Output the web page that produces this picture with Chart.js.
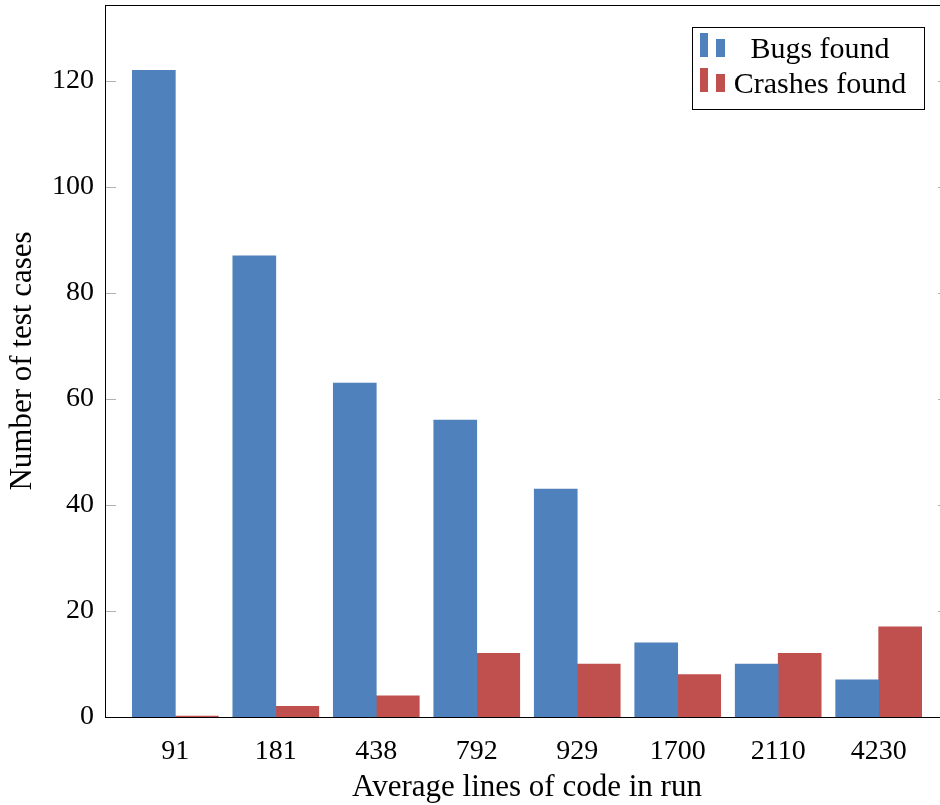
<!DOCTYPE html>
<html>
<head>
<meta charset="utf-8">
<script src="https://cdn.jsdelivr.net/npm/chart.js@4.4.1/dist/chart.umd.min.js"></script>
<style>
    html, body { margin: 0; padding: 0; background: #fff; overflow: hidden; }
    #wrap { width: 960px; height: 805px; }
</style>
</head>
<body>
<div id="wrap"><canvas id="grafico" width="960" height="805"></canvas></div>
<script>
// dados
const linhasCodigo = ['91', '181', '438', '792', '929', '1700', '2110', '4230'];
const bugsEncontrados = [122, 87, 63, 56, 43, 14, 10, 7];
const crashesEncontrados = [0, 2, 4, 12, 10, 8, 12, 17];
const ticksY = [0, 20, 40, 60, 80, 100, 120];

const AZUL = '#4f81bd';
const VERMELHO = '#c0504d';
const FONTE = '"Liberation Serif", "Times New Roman", serif';

// marcas para dentro nos dois lados + moldura preta
const moldura = {
    id: 'moldura',
    beforeDatasetsDraw(chart) {
        const { ctx, chartArea: a, scales } = chart;
        ctx.save();
        ctx.strokeStyle = '#b0b0b0';
        ctx.lineWidth = 1;
        scales.y.ticks.forEach(t => {
            const y = Math.round(scales.y.getPixelForValue(t.value)) + 0.5;
            ctx.beginPath();
            ctx.moveTo(a.left, y);
            ctx.lineTo(a.left + 11, y);
            ctx.moveTo(a.right - 11, y);
            ctx.lineTo(a.right, y);
            ctx.stroke();
        });
        ctx.restore();
    },
    afterDatasetsDraw(chart) {
        const { ctx, chartArea: a } = chart;
        ctx.save();
        ctx.strokeStyle = '#000';
        ctx.lineWidth = 1;
        ctx.strokeRect(a.left + 0.5, a.top + 0.5, a.right - a.left, a.bottom - a.top);
        ctx.restore();
    }
};

// legenda no canto superior direito, estilo pgfplots
const legenda = {
    id: 'legenda',
    afterDraw(chart) {
        const { ctx, chartArea: a } = chart;
        const larg = 232, alt = 82;
        const x0 = a.right - 25 - larg;
        const y0 = a.top + 22;
        ctx.save();
        ctx.fillStyle = '#fff';
        ctx.fillRect(x0, y0, larg, alt);
        ctx.strokeStyle = '#000';
        ctx.lineWidth = 1;
        ctx.strokeRect(Math.round(x0) + 0.5, Math.round(y0) + 0.5, larg, alt);
        ctx.font = '30px ' + FONTE;
        ctx.textAlign = 'center';
        ctx.textBaseline = 'alphabetic';
        chart.data.datasets.forEach((ds, i) => {
            const base = y0 + 30 + i * 35;
            ctx.fillStyle = ds.backgroundColor;
            ctx.fillRect(x0 + 8, base - 24, 8, 24);
            ctx.fillRect(x0 + 24, base - 18, 9, 18);
            ctx.fillStyle = '#000';
            ctx.fillText(ds.label, x0 + 128, base + 1);
        });
        ctx.restore();
    }
};

const ctx = document.getElementById('grafico').getContext('2d');
const grafico = new Chart(ctx, {
    type: 'bar',
    data: {
        datasets: [{
            label: 'Bugs found',
            data: bugsEncontrados.map((v, i) => ({ x: i, y: v })),
            backgroundColor: AZUL,
            barThickness: 43
        }, {
            label: 'Crashes found',
            data: crashesEncontrados.map((v, i) => ({ x: i, y: v })),
            backgroundColor: VERMELHO,
            barThickness: 43,
            minBarLength: 1
        }]
    },
    options: {
        responsive: false,
        animation: false,
        layout: { padding: { top: 5, right: 11, left: 0, bottom: 0 } },
        plugins: {
            legend: { display: false },
            tooltip: { enabled: false }
        },
        scales: {
            x: {
                type: 'linear',
                offset: false,
                min: -0.7,
                max: 7.7,
                afterBuildTicks: s => { s.ticks = linhasCodigo.map((_, i) => ({ value: i })); },
                afterFit: s => { s.height = 88; s.paddingLeft = 0; s.paddingRight = 0; },
                grid: { display: false, drawTicks: false, offset: false },
                border: { display: false },
                ticks: {
                    autoSkip: false,
                    maxRotation: 0,
                    padding: 18,
                    color: '#000',
                    font: { family: FONTE, size: 28 },
                    callback: v => linhasCodigo[v]
                },
                title: {
                    display: true,
                    text: 'Average lines of code in run',
                    color: '#000',
                    font: { family: FONTE, size: 31, lineHeight: 1.1 },
                    padding: { top: 0, bottom: 0 }
                }
            },
            y: {
                min: 0,
                max: 134.3,
                afterBuildTicks: s => { s.ticks = ticksY.map(v => ({ value: v })); },
                afterFit: s => { s.width = 105; s.paddingTop = 0; s.paddingBottom = 0; },
                grid: { display: false, drawTicks: false },
                border: { display: false },
                ticks: {
                    padding: 11,
                    color: '#000',
                    font: { family: FONTE, size: 28 }
                },
                title: {
                    display: true,
                    text: 'Number of test cases',
                    color: '#000',
                    font: { family: FONTE, size: 31, lineHeight: 1.1 },
                    padding: { top: 6, bottom: 0 }
                }
            }
        }
    },
    plugins: [moldura, legenda]
});
</script>
</body>
</html>
